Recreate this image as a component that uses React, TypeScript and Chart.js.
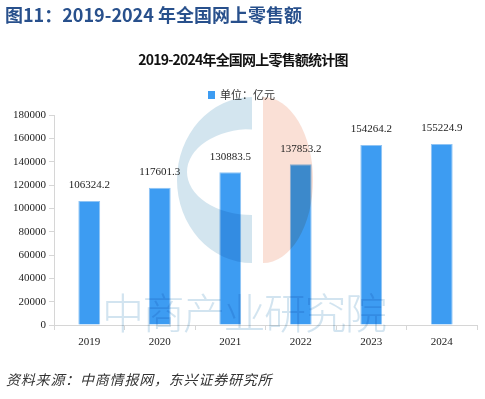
import React, { useEffect, useRef } from "react";
import { Chart, registerables } from "chart.js";

Chart.register(...registerables);

const headerText = "图11：2019-2024 年全国网上零售额";
const chartTitle = "2019-2024年全国网上零售额统计图";
const legendLabel = "单位：亿元";
const footerText = "资料来源：中商情报网，东兴证券研究所";
const watermarkText = "中商产业研究院";

const categories = ["2019", "2020", "2021", "2022", "2023", "2024"];
const retailSales = [106324.2, 117601.3, 130883.5, 137853.2, 154264.2, 155224.9];
const yMin = 0;
const yMax = 180000;
const yStep = 20000;

const BAR_COLOR = "#3d9cf2";
const CJK = '"Noto Sans CJK SC", "Noto Sans", sans-serif';
const NUM = '"Liberation Serif", "DejaVu Serif", serif';

const decorPlugin = {
  id: "decor",
  beforeDraw(chart: any) {
    const ctx = chart.ctx;
    ctx.save();
    ctx.fillStyle = "#ffffff";
    ctx.fillRect(0, 0, chart.width, chart.height);
    // header
    ctx.fillStyle = "#28508c";
    ctx.font = `bold 18px ${CJK}`;
    ctx.textBaseline = "middle";
    ctx.textAlign = "left";
    ctx.fillText(headerText, 5, 15);
    // chart title
    ctx.fillStyle = "#111111";
    ctx.font = `bold 14px ${CJK}`;
    ctx.textAlign = "center";
    (ctx as any).letterSpacing = "-0.8px";
    ctx.fillText(chartTitle, 243, 60);
    (ctx as any).letterSpacing = "0px";
    // legend
    ctx.fillStyle = BAR_COLOR;
    ctx.fillRect(208, 91, 7, 8);
    ctx.fillStyle = "#333333";
    ctx.font = `11px ${CJK}`;
    ctx.textAlign = "left";
    ctx.fillText(legendLabel, 220, 95);
    // footer
    ctx.fillStyle = "#333333";
    ctx.font = `italic 14px ${CJK}`;
    (ctx as any).letterSpacing = "0.8px";
    ctx.fillText(footerText, 6, 380);
    (ctx as any).letterSpacing = "0px";
    ctx.restore();
  },
  afterDatasetsDraw(chart: any) {
    const ctx = chart.ctx;
    ctx.save();
    ctx.globalCompositeOperation = "multiply";
    // logo watermark (blue "C")
    ctx.fillStyle = "#d3e5ef";
    ctx.beginPath();
    ctx.ellipse(252, 180, 75, 83, 0, Math.PI / 2, (3 * Math.PI) / 2, false);
    ctx.closePath();
    ctx.ellipse(252, 172, 65, 43, 0, Math.PI / 2, (3 * Math.PI) / 2, false);
    ctx.closePath();
    ctx.fill("evenodd");
    // logo watermark (salmon half)
    ctx.fillStyle = "#fae0d6";
    ctx.beginPath();
    ctx.ellipse(263, 180, 50, 83, 0, -Math.PI / 2, Math.PI / 2, false);
    ctx.closePath();
    ctx.fill();
    // text watermark
    ctx.fillStyle = "#d2e4f0";
    ctx.font = `300 42px ${CJK}`;
    ctx.textBaseline = "middle";
    ctx.textAlign = "left";
    (ctx as any).letterSpacing = "-1.5px";
    ctx.fillText(watermarkText, 102, 313);
    (ctx as any).letterSpacing = "0px";
    ctx.restore();

    // data labels
    ctx.save();
    ctx.fillStyle = "#222222";
    ctx.font = `11px ${NUM}`;
    ctx.textAlign = "center";
    ctx.textBaseline = "bottom";
    const meta = chart.getDatasetMeta(0);
    meta.data.forEach((bar: any, i: number) => {
      ctx.fillText(retailSales[i].toFixed(1), bar.x, bar.y - 10);
    });
    ctx.restore();
  },
};

export default function App() {
  const ref = useRef<HTMLCanvasElement>(null);
  useEffect(() => {
    if (!ref.current) return;
    const chart = new Chart(ref.current, {
      type: "bar",
      data: {
        labels: categories,
        datasets: [
          {
            label: legendLabel,
            data: retailSales,
            backgroundColor: BAR_COLOR,
            borderColor: "#8fc4f4",
            borderWidth: 1,
            barPercentage: 0.31,
            categoryPercentage: 1,
          },
        ],
      },
      options: {
        responsive: false,
        animation: false,
        devicePixelRatio: 1,
        layout: { padding: { top: 115, left: 0, right: 8, bottom: 44 } },
        plugins: {
          legend: { display: false },
          title: { display: false },
          tooltip: { enabled: false },
        },
        scales: {
          x: {
            grid: { drawOnChartArea: false, color: "#d6d6d6", tickLength: 5, offset: true },
            border: { color: "#d6d6d6" },
            ticks: { color: "#222222", font: { family: NUM, size: 11 }, padding: 6 },
            afterFit: (s: any) => {
              s.height = 30;
            },
          },
          y: {
            min: yMin,
            max: yMax,
            grid: { drawOnChartArea: false, color: "#d6d6d6", tickLength: 5 },
            border: { color: "#d6d6d6" },
            ticks: {
              stepSize: yStep,
              color: "#222222",
              font: { family: NUM, size: 11 },
              padding: 3,
              callback: (v: any) => String(v),
            },
            afterFit: (s: any) => {
              s.width = 54;
            },
          },
        },
      },
      plugins: [decorPlugin],
    });
    return () => chart.destroy();
  }, []);
  return (
    <div style={{ position: "absolute", left: 0, top: 0, width: 485, height: 399 }}>
      <canvas ref={ref} width={485} height={399} style={{ display: "block" }} />
    </div>
  );
}
